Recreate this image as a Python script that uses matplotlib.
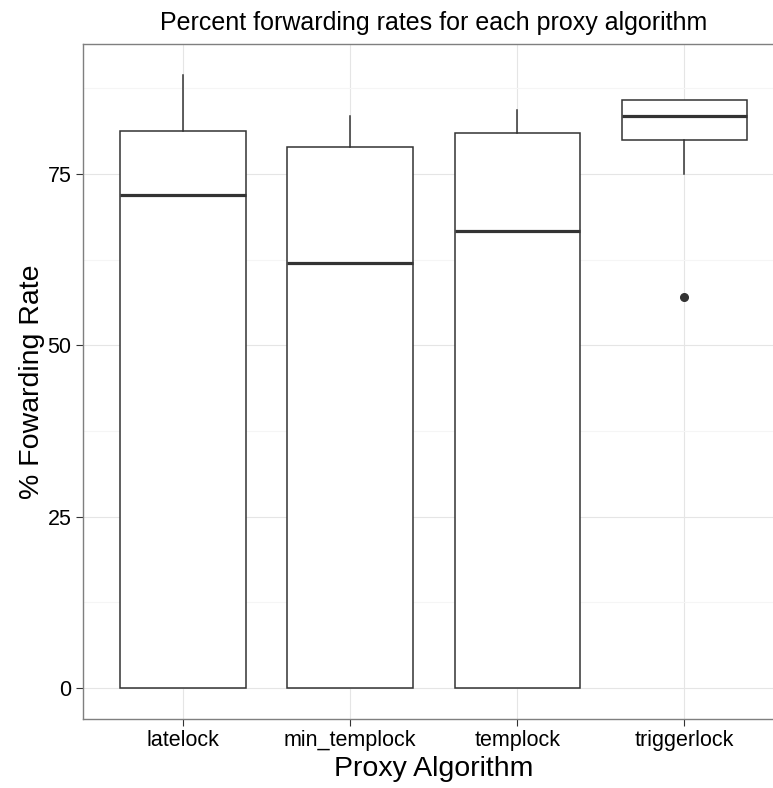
import matplotlib
matplotlib.use("Agg")
import matplotlib.pyplot as plt

plt.rcParams['font.family'] = ['Liberation Sans', 'DejaVu Sans']

categories = ["latelock", "min_templock", "templock", "triggerlock"]
whisker_low = [0.0, 0.0, 0.0, 75.0]
q1 = [0.0, 0.0, 0.0, 80.0]
medians = [72.0, 62.0, 66.7, 83.4]
q3 = [81.3, 78.9, 81.0, 85.8]
whisker_high = [89.5, 83.4, 84.3, 85.8]
outliers = [[], [], [], [57.1]]
y_ticks = [0, 25, 50, 75]

title = "Percent forwarding rates for each proxy algorithm"
xlabel = "Proxy Algorithm"
ylabel = "% Fowarding Rate"

W, H = 773, 788
fig = plt.figure(figsize=(W / 100, H / 100), dpi=100)
left_px, right_px, top_px, bottom_px = 82.7, 784.6, 44.0, 718.7
ax = fig.add_axes([left_px / W, (H - bottom_px) / H,
                   (right_px - left_px) / W, (bottom_px - top_px) / H])

stats = []
for i, c in enumerate(categories):
    stats.append(dict(label=c, whislo=whisker_low[i], q1=q1[i], med=medians[i],
                      q3=q3[i], whishi=whisker_high[i], fliers=outliers[i]))

line_c = "#333333"
pos = list(range(1, len(categories) + 1))
ax.bxp(stats, positions=pos, widths=0.75, patch_artist=True, showcaps=False,
       boxprops=dict(facecolor="white", edgecolor=line_c, linewidth=1.1),
       whiskerprops=dict(color=line_c, linewidth=1.1),
       medianprops=dict(color=line_c, linewidth=2.3, solid_capstyle="butt"),
       flierprops=dict(marker="o", markerfacecolor=line_c, markeredgecolor=line_c,
                       markersize=5.5, linestyle="none"),
       zorder=3)

ymax = max(whisker_high)
ymin = min(whisker_low)
rng = ymax - ymin
ax.set_ylim(ymin - 0.05 * rng, ymax + 0.05 * rng)
ax.set_xlim(0.4, len(categories) + 0.6)

ax.set_yticks(y_ticks)
ax.set_yticks([12.5, 37.5, 62.5, 87.5], minor=True)
ax.set_xticks(pos)
ax.set_xticklabels(categories)
ax.tick_params(axis="both", which="major", length=5, width=0.8, color="#333333",
               labelsize=15.5, labelcolor="black", pad=3)
ax.tick_params(axis="y", which="minor", length=0)
ax.grid(True, which="major", color="#e5e5e5", linewidth=0.8, zorder=0)
ax.grid(True, which="minor", axis="y", color="#f5f5f5", linewidth=0.8, zorder=0)
ax.set_axisbelow(True)
for s in ax.spines.values():
    s.set_color("#7f7f7f")
    s.set_linewidth(1.0)

ax.set_xlabel(xlabel, fontsize=20.5, labelpad=4)
ax.set_ylabel(ylabel, fontsize=20.5, labelpad=2)
fig.text((left_px + right_px) / 2 / W, 1 - 23 / H, title, ha="center", va="center",
         fontsize=18)

fig.savefig("out.png", dpi=100)
